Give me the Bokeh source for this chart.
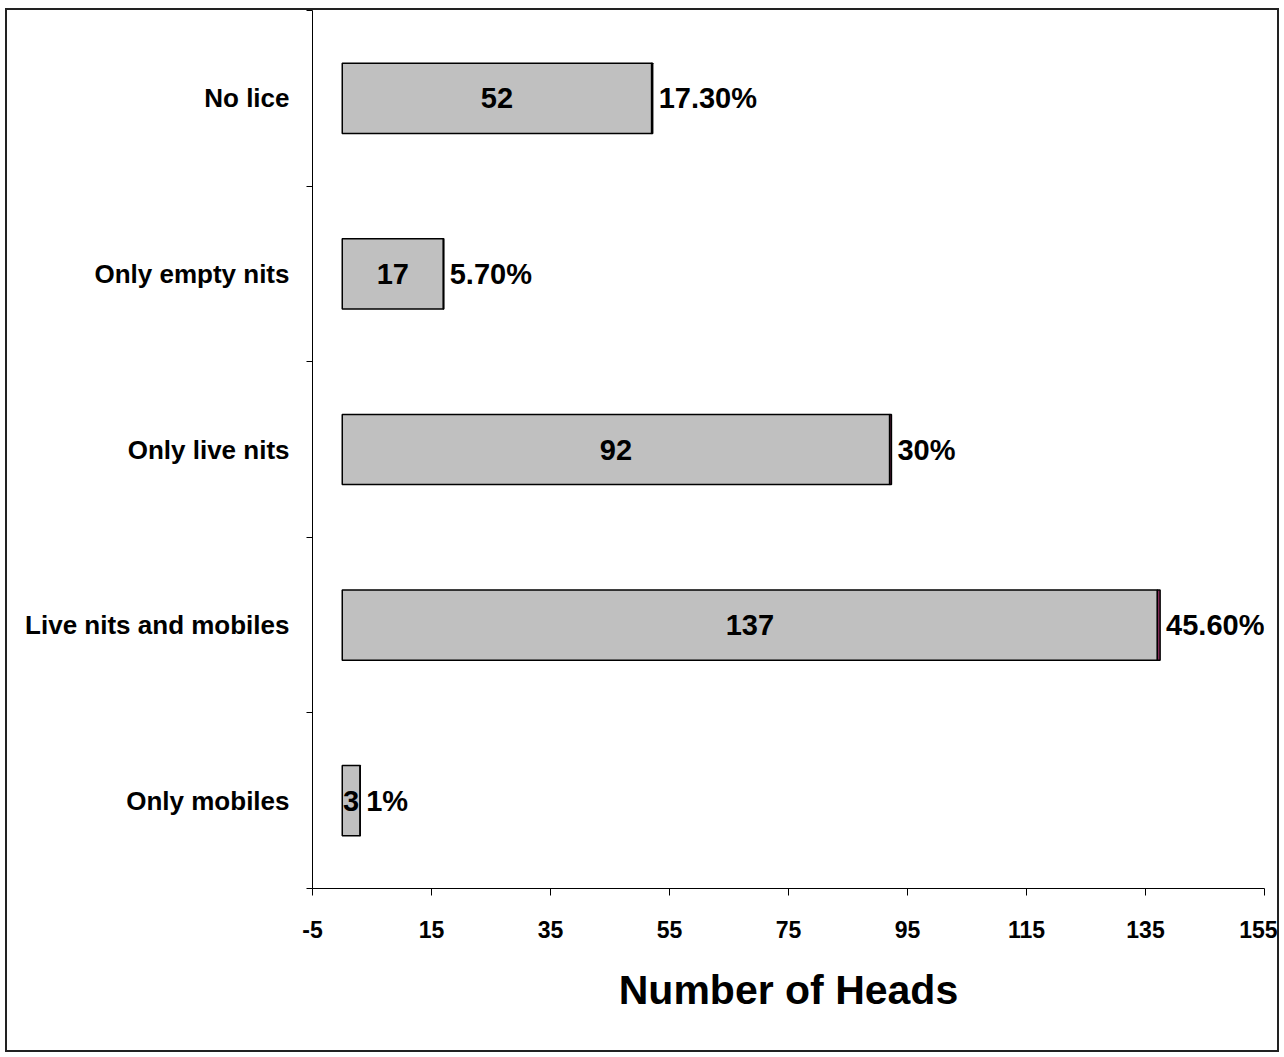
from bokeh.plotting import figure
from bokeh.models import Range1d, FixedTicker, ColumnDataSource
from bokeh.core.properties import value
from bokeh.embed import file_html
from bokeh.resources import INLINE

# Data (top to bottom as shown)
categories = ["No lice", "Only empty nits", "Only live nits", "Live nits and mobiles", "Only mobiles"]
counts = [52, 17, 92, 137, 3]
shares = [0.173, 0.057, 0.30, 0.456, 0.01]
share_labels = ["17.30%", "5.70%", "30%", "45.60%", "1%"]
x_ticks = [-5, 15, 35, 55, 75, 95, 115, 135, 155]

n = len(categories)
ypos = [n - 0.5 - i for i in range(n)]

FONT = "Liberation Sans"

p = figure(width=1274, height=1044, x_range=Range1d(-5, 155), y_range=Range1d(0, n),
           output_backend="svg", toolbar_location=None,
           min_border_left=305, min_border_right=17, min_border_top=0, min_border_bottom=166)
p.styles = {"border": "2px solid #222", "margin-left": "5px", "margin-top": "8px"}
p.outline_line_color = None
p.grid.visible = False
p.background_fill_color = "white"
p.border_fill_color = "white"

src = ColumnDataSource(dict(
    y=ypos, count=counts, half=[c / 2 for c in counts],
    end=[c + s for c, s in zip(counts, shares)],
    count_lbl=[str(c) for c in counts], share_lbl=share_labels,
))

p.hbar(y="y", left=0, right="count", height=0.4, source=src,
       fill_color="#C0C0C0", line_color="black", line_width=1.5)
p.hbar(y="y", left="count", right="end", height=0.4, source=src,
       fill_color="#993366", line_color="black", line_width=1.5)

p.text(x="half", y="y", text="count_lbl", source=src, text_align="center",
       text_baseline="middle", text_font=value(FONT), text_font_style="bold",
       text_font_size="29px", text_color="black")
p.text(x="end", y="y", text="share_lbl", source=src, text_align="left",
       text_baseline="middle", x_offset=6, text_font=value(FONT), text_font_style="bold",
       text_font_size="29px", text_color="black")

# x axis
p.xaxis.ticker = FixedTicker(ticks=x_ticks)
p.xaxis.major_label_overrides = {t: str(t) for t in x_ticks}
p.xaxis.minor_tick_line_color = None
p.xaxis.major_tick_in = 0
p.xaxis.major_tick_out = 7
p.xaxis.major_label_standoff = 25
p.xaxis.major_label_text_font = FONT
p.xaxis.major_label_text_font_style = "bold"
p.xaxis.major_label_text_font_size = "23px"
p.xaxis.major_label_text_color = "black"
p.xaxis.axis_label = "Number of Heads"
p.xaxis.axis_label_text_font = FONT
p.xaxis.axis_label_text_font_style = "bold"
p.xaxis.axis_label_text_font_size = "41px"
p.xaxis.axis_label_text_color = "black"
p.xaxis.axis_label_standoff = 26
p.xaxis.axis_line_color = "black"
p.xaxis.major_tick_line_color = "black"

# y axis: labels at category centres, ticks at category boundaries
p.yaxis.ticker = FixedTicker(ticks=ypos, minor_ticks=list(range(n + 1)))
p.yaxis.major_label_overrides = {y: c for y, c in zip(ypos, categories)}
p.yaxis.major_tick_in = 0
p.yaxis.major_tick_out = 0
p.yaxis.minor_tick_in = 0
p.yaxis.minor_tick_out = 6
p.yaxis.minor_tick_line_color = "black"
p.yaxis.major_label_standoff = 17
p.yaxis.major_label_text_font = FONT
p.yaxis.major_label_text_font_style = "bold"
p.yaxis.major_label_text_font_size = "26px"
p.yaxis.major_label_text_color = "black"
p.yaxis.axis_line_color = "black"

open("out.html", "w").write(file_html(p, INLINE))
